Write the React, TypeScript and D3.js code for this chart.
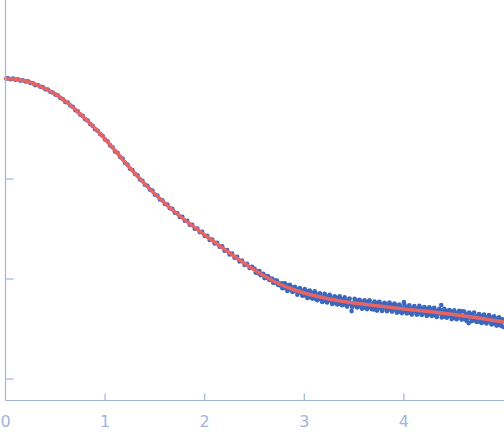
import React from "react";
import * as d3 from "d3";

// Fitted curve: q (1/nm) vs log10 intensity
const fitQ = [0, 0.125, 0.25, 0.375, 0.5, 0.625, 0.75, 0.875, 1.0, 1.125, 1.25, 1.375, 1.5, 1.625, 1.75, 1.875, 2.0, 2.125, 2.25, 2.375, 2.5, 2.625, 2.75, 2.875, 3.0, 3.125, 3.25, 3.375, 3.5, 3.625, 3.75, 3.875, 4.0, 4.125, 4.25, 4.375, 4.5, 4.625, 4.75, 4.875, 5.0];
const fitLogI = [0.005, -0.005, -0.035, -0.085, -0.15, -0.24, -0.35, -0.47, -0.6, -0.745, -0.89, -1.025, -1.15, -1.265, -1.37, -1.467, -1.56, -1.65, -1.74, -1.828, -1.91, -1.985, -2.05, -2.1, -2.14, -2.172, -2.2, -2.222, -2.24, -2.256, -2.27, -2.285, -2.3, -2.312, -2.325, -2.34, -2.355, -2.372, -2.39, -2.41, -2.43];

// Experimental points [q, log10 I]
const dataPoints: [number, number][] = [
  [0.01, 0.005], [0.025, 0.007], [0.05, -0.002], [0.075, 0.004], [0.1, -0.007], [0.125, -0.002],
  [0.15, -0.016], [0.175, -0.013], [0.2, -0.025], [0.225, -0.023], [0.25, -0.039],
  [0.275, -0.042], [0.3, -0.061], [0.325, -0.06], [0.35, -0.077], [0.375, -0.081],
  [0.4, -0.103], [0.425, -0.105], [0.45, -0.127], [0.475, -0.135], [0.5, -0.156],
  [0.525, -0.163], [0.55, -0.19], [0.575, -0.201], [0.6, -0.229], [0.625, -0.235],
  [0.65, -0.265], [0.675, -0.278], [0.7, -0.311], [0.725, -0.324], [0.75, -0.356],
  [0.775, -0.369], [0.8, -0.402], [0.825, -0.415], [0.85, -0.451], [0.875, -0.467],
  [0.9, -0.502], [0.925, -0.517], [0.95, -0.551], [0.975, -0.568], [1.0, -0.605],
  [1.025, -0.622], [1.05, -0.664], [1.075, -0.683], [1.1, -0.724], [1.125, -0.739],
  [1.15, -0.779], [1.175, -0.795], [1.2, -0.838], [1.225, -0.856], [1.25, -0.898],
  [1.275, -0.91], [1.3, -0.95], [1.325, -0.962], [1.35, -1.005], [1.375, -1.019],
  [1.4, -1.058], [1.425, -1.068], [1.45, -1.106], [1.475, -1.116], [1.5, -1.157],
  [1.525, -1.165], [1.55, -1.205], [1.575, -1.213], [1.6, -1.25], [1.625, -1.255],
  [1.65, -1.293], [1.675, -1.298], [1.7, -1.338], [1.725, -1.342], [1.75, -1.379],
  [1.775, -1.379], [1.8, -1.417], [1.825, -1.417], [1.85, -1.458], [1.875, -1.459],
  [1.9, -1.497], [1.925, -1.495], [1.95, -1.531], [1.975, -1.529], [2.0, -1.57],
  [2.025, -1.567], [2.05, -1.609], [2.075, -1.605], [2.1, -1.644], [2.125, -1.637],
  [2.15, -1.678], [2.175, -1.672], [2.2, -1.717], [2.225, -1.711], [2.25, -1.755],
  [2.275, -1.745], [2.3, -1.787], [2.325, -1.777], [2.35, -1.824], [2.375, -1.816],
  [2.4, -1.86], [2.425, -1.847], [2.45, -1.89], [2.475, -1.877],
  [2.5, -1.898], [2.5125, -1.936], [2.525, -1.92], [2.5375, -1.942], [2.55, -1.92],
  [2.5625, -1.962], [2.575, -1.952], [2.5875, -1.947], [2.6, -1.991], [2.6125, -1.97],
  [2.625, -1.99], [2.6375, -1.973], [2.65, -2.01], [2.6625, -2.005], [2.675, -1.996],
  [2.6875, -2.037], [2.7, -2.014], [2.7125, -2.038], [2.725, -2.015], [2.7375, -2.06],
  [2.75, -2.046], [2.7625, -2.066], [2.775, -2.042], [2.7875, -2.068], [2.8, -2.09],
  [2.8125, -2.062], [2.825, -2.088], [2.8375, -2.064], [2.85, -2.105], [2.8625, -2.089],
  [2.875, -2.083], [2.8875, -2.126], [2.9, -2.099], [2.9125, -2.116], [2.925, -2.102],
  [2.9375, -2.137], [2.95, -2.122], [2.9625, -2.108], [2.975, -2.142], [2.9875, -2.125],
  [3.0, -2.165], [3.0125, -2.125], [3.025, -2.154], [3.0375, -2.122], [3.05, -2.183],
  [3.0625, -2.144], [3.075, -2.174], [3.0875, -2.138], [3.1, -2.171], [3.1125, -2.197],
  [3.125, -2.152], [3.1375, -2.166], [3.15, -2.2], [3.1625, -2.15], [3.175, -2.195],
  [3.1875, -2.183], [3.2, -2.215], [3.2125, -2.176], [3.225, -2.229], [3.2375, -2.175],
  [3.25, -2.21], [3.2625, -2.175], [3.275, -2.222], [3.2875, -2.201], [3.3, -2.238],
  [3.3125, -2.197], [3.325, -2.188], [3.3375, -2.235], [3.35, -2.21], [3.3625, -2.251],
  [3.375, -2.203], [3.3875, -2.233], [3.4, -2.2], [3.4125, -2.254], [3.425, -2.218],
  [3.4375, -2.235], [3.45, -2.204], [3.4625, -2.249], [3.475, -2.321], [3.4875, -2.237],
  [3.5, -2.264], [3.5125, -2.221], [3.525, -2.254], [3.5375, -2.215], [3.55, -2.274],
  [3.5625, -2.241], [3.575, -2.269], [3.5875, -2.227], [3.6, -2.286], [3.6125, -2.241],
  [3.625, -2.262], [3.6375, -2.229], [3.65, -2.282], [3.6625, -2.256], [3.675, -2.291],
  [3.6875, -2.245], [3.7, -2.304], [3.7125, -2.24], [3.725, -2.279], [3.7375, -2.237],
  [3.75, -2.287], [3.7625, -2.263], [3.775, -2.3], [3.7875, -2.253], [3.8, -2.284],
  [3.8125, -2.248], [3.825, -2.311], [3.8375, -2.266], [3.85, -2.303], [3.8625, -2.281],
  [3.875, -2.259], [3.8875, -2.316], [3.9, -2.276], [3.9125, -2.305], [3.925, -2.263],
  [3.9375, -2.3], [3.95, -2.328], [3.9625, -2.277], [3.975, -2.317], [3.9875, -2.294],
  [4.0, -2.23], [4.0125, -2.327], [4.025, -2.285], [4.0375, -2.314], [4.05, -2.276],
  [4.0625, -2.337], [4.075, -2.299], [4.0875, -2.326], [4.1, -2.286], [4.1125, -2.316],
  [4.125, -2.34], [4.1375, -2.292], [4.15, -2.329], [4.1625, -2.285], [4.175, -2.35],
  [4.1875, -2.309], [4.2, -2.342], [4.2125, -2.294], [4.225, -2.329], [4.2375, -2.308],
  [4.25, -2.355], [4.2625, -2.304], [4.275, -2.34], [4.2875, -2.297], [4.3, -2.358],
  [4.3125, -2.329], [4.325, -2.369], [4.3375, -2.316], [4.35, -2.346], [4.3625, -2.31],
  [4.375, -2.26], [4.3875, -2.366], [4.4, -2.329], [4.4125, -2.376], [4.425, -2.32],
  [4.4375, -2.351], [4.45, -2.371], [4.4625, -2.319], [4.475, -2.368], [4.4875, -2.345],
  [4.5, -2.384], [4.5125, -2.335], [4.525, -2.396], [4.5375, -2.345], [4.55, -2.373],
  [4.5625, -2.334], [4.575, -2.391], [4.5875, -2.322], [4.6, -2.376], [4.6125, -2.403],
  [4.625, -2.354], [4.6375, -2.394], [4.65, -2.441], [4.6625, -2.351], [4.675, -2.391],
  [4.6875, -2.348], [4.7, -2.413], [4.7125, -2.377], [4.725, -2.41], [4.7375, -2.367],
  [4.75, -2.426], [4.7625, -2.379], [4.775, -2.411], [4.7875, -2.367], [4.8, -2.426],
  [4.8125, -2.395], [4.825, -2.436], [4.8375, -2.38], [4.85, -2.416], [4.8625, -2.377],
  [4.875, -2.435], [4.8875, -2.396], [4.9, -2.445], [4.9125, -2.39], [4.925, -2.432],
  [4.9375, -2.4], [4.95, -2.459], [4.9625, -2.413], [4.975, -2.448], [4.9875, -2.403],
  [5.0, -2.48],
];

// Additional noisy points in the high-q region [q, log10 I]
const dataPointsHighQ: [number, number][] = [
  [2.78, -2.092], [2.805, -2.044], [2.83, -2.12], [2.855, -2.057], [2.88, -2.127],
  [2.905, -2.078], [2.93, -2.158], [2.955, -2.09], [2.98, -2.167], [3.005, -2.101],
  [3.03, -2.19], [3.055, -2.116], [3.08, -2.196], [3.105, -2.123], [3.13, -2.213],
  [3.155, -2.144], [3.18, -2.229], [3.205, -2.149], [3.23, -2.234], [3.255, -2.158],
  [3.28, -2.249], [3.305, -2.173], [3.33, -2.255], [3.355, -2.173], [3.38, -2.262],
  [3.405, -2.184], [3.43, -2.276], [3.455, -2.195], [3.48, -2.28], [3.505, -2.197],
  [3.53, -2.284], [3.555, -2.208], [3.58, -2.297], [3.605, -2.212], [3.63, -2.301],
  [3.655, -2.213], [3.68, -2.303], [3.705, -2.225], [3.73, -2.316], [3.755, -2.228],
  [3.78, -2.319], [3.805, -2.239], [3.83, -2.322], [3.855, -2.236], [3.88, -2.326],
  [3.905, -2.245], [3.93, -2.338], [3.955, -2.256], [3.98, -2.341], [4.005, -2.255],
  [4.03, -2.344], [4.055, -2.263], [4.08, -2.356], [4.105, -2.27], [4.13, -2.357],
  [4.155, -2.269], [4.18, -2.36], [4.205, -2.281], [4.23, -2.37], [4.255, -2.282],
  [4.28, -2.369], [4.305, -2.289], [4.33, -2.38], [4.355, -2.297], [4.38, -2.384],
  [4.405, -2.298], [4.43, -2.388], [4.455, -2.31], [4.48, -2.401], [4.505, -2.314],
  [4.53, -2.403], [4.555, -2.317], [4.58, -2.406], [4.605, -2.326], [4.63, -2.419],
  [4.655, -2.335], [4.68, -2.423], [4.705, -2.336], [4.73, -2.429], [4.755, -2.351],
  [4.78, -2.44], [4.805, -2.356], [4.83, -2.444], [4.855, -2.361], [4.88, -2.455],
  [4.905, -2.373], [4.93, -2.466], [4.955, -2.383], [4.98, -2.47],
];

const xTickValues = [0, 1, 2, 3, 4];
const yTickValues = [-1, -2, -3];

const W = 504;
const H = 438;
const AXIS = "#a0b4dc";
const POINT = "#3a68be";
const FIT = "#e86464";

export default function App() {
  const x = d3.scaleLinear().domain([0, 5]).range([5.5, 503.5]);
  const y = d3.scaleLinear().domain([0.79, -3.215]).range([0, 400.5]);
  const fitData = fitQ.map((q, i) => [q, fitLogI[i]] as [number, number]);
  const allPoints = dataPoints.concat(dataPointsHighQ);
  const line = d3
    .line<[number, number]>()
    .x((d) => x(d[0]))
    .y((d) => y(d[1]))
    .curve(d3.curveMonotoneX);
  const x0 = x(0);
  const yb = y(-3.215);

  return (
    <div style={{ position: "absolute", left: 0, top: 0 }}>
      <svg width={W} height={H} style={{ display: "block", background: "#fff" }}>
        <g>
          {allPoints.map((d, i) => (
            <circle key={i} cx={x(d[0])} cy={y(d[1])} r={2.3} fill={POINT} />
          ))}
        </g>
        <path d={line(fitData) || ""} fill="none" stroke={FIT} strokeWidth={3.5} strokeLinejoin="round" strokeLinecap="round" />
        <g stroke={AXIS} strokeWidth={1.2} fill="none">
          <line x1={x0} x2={x0} y1={0} y2={yb} />
          <line x1={x0} x2={W} y1={yb} y2={yb} />
          {yTickValues.map((t) => (
            <line key={"yt" + t} x1={x0} x2={x0 + 8} y1={y(t)} y2={y(t)} />
          ))}
          {xTickValues.filter((t) => t > 0).map((t) => (
            <line key={"xt" + t} x1={x(t)} x2={x(t)} y1={yb} y2={yb - 7} />
          ))}
        </g>
        <g fill={AXIS} fontFamily="DejaVu Sans" fontSize={16} textAnchor="middle">
          {xTickValues.map((t) => (
            <text key={"xl" + t} x={x(t)} y={426.5}>
              {String(t)}
            </text>
          ))}
        </g>
      </svg>
    </div>
  );
}
